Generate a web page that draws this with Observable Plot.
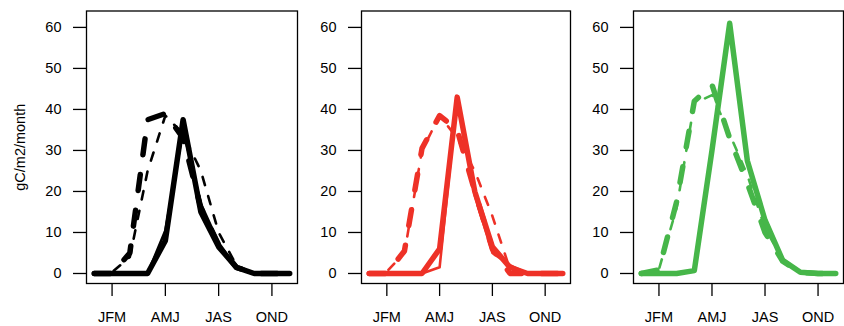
<!DOCTYPE html>
<html>
<head>
<meta charset="utf-8">
<script src="https://cdn.jsdelivr.net/npm/d3@7"></script>
<script src="https://cdn.jsdelivr.net/npm/@observablehq/plot@0.6"></script>
<style>
  body { margin: 0; background: #ffffff; }
  #wrap { position: relative; width: 844px; height: 326px; overflow: hidden; background: #ffffff; }
  .panel { position: absolute; top: 0; }
</style>
</head>
<body>
<div id="wrap"></div>
<script>
// ---- data ----
const months = [1, 2, 3, 4, 5, 6, 7, 8, 9, 10, 11, 12];
const tickMonths = [2, 5, 8, 11];
const tickLabels = ["JFM", "AMJ", "JAS", "OND"];
const yTicks = [0, 10, 20, 30, 40, 50, 60];
const yLabel = "gC/m2/month";
const panelColors = ["#000000", "#EE3127", "#46B649"];

// panel 1 (black)
const blackThickSolid  = [0, 0, 0, 0, 8.0, 37.5, 15.0, 6.5, 1.5, 0, 0, 0];
const blackThinSolid   = [0, 0, 0, 0, 10.5, 35.0, 17.0, 7.5, 1.5, 0, 0, 0];
const blackThickDashed = [0, 0, 5.0, 37.5, 39.0, 33.0, 16.0, 7.0, 1.5, 0, 0, 0];
const blackThinDashed  = [0, 0.3, 4.0, 25.0, 38.5, 34.0, 25.0, 10.0, 2.0, 0, 0, 0];

// panel 2 (red)
const redThickSolid  = [0, 0, 0, 0, 6.0, 43.0, 20.0, 6.5, 1.5, 0, 0, 0];
const redThinSolid   = [0, 0, 0, 0, 1.5, 43.0, 19.0, 5.0, 2.0, 0, 0, 0];
const redThickDashed = [0, 0, 5.5, 30.5, 38.5, 35.0, 20.0, 6.0, 0, 0, 0, 0];
const redThinDashed  = [0, 0.5, 5.0, 30.0, 38.5, 33.0, 25.0, 14.0, 1.0, 0, 0, 0];

// panel 3 (green)
const greenThickSolid  = [0, 0, 0, 0.7, 30.0, 61.0, 27.5, 13.0, 3.2, 0.3, 0, 0];
const greenThinSolid   = [0, 0, 0, 0.5, 30.0, 60.5, 28.0, 13.5, 3.5, 0.3, 0, 0];
const greenThickDashed = [0, 0.9, 17.5, 42.0, 46.0, 33.0, 22.0, 10.0, 3.0, 0.3, 0, 0];
const greenThinDashed  = [0, 1.0, 16.0, 41.5, 43.5, 34.0, 24.0, 11.0, 3.5, 0.5, 0, 0];

const panelSeries = [
  [blackThinDashed, blackThickDashed, blackThinSolid, blackThickSolid],
  [redThinDashed, redThickDashed, redThinSolid, redThickSolid],
  [greenThinDashed, greenThickDashed, greenThinSolid, greenThickSolid]
];

// ---- styles & layout ----
const seriesStyles = [
  {strokeWidth: 2.6, strokeDasharray: "8.5,11.5"},
  {strokeWidth: 5.5, strokeDasharray: "16,20"},
  {strokeWidth: 2.6, strokeDasharray: null},
  {strokeWidth: 5.5, strokeDasharray: null}
];
const layouts = [
  {left: 0,   width: 300, marginLeft: 86, marginRight: 3},
  {left: 281, width: 292, marginLeft: 80, marginRight: 3},
  {left: 562, width: 282, marginLeft: 71, marginRight: 1}
];

const wrap = document.getElementById("wrap");

panelSeries.forEach((seriesList, p) => {
  const lay = layouts[p];
  const color = panelColors[p];
  const lineMarks = seriesList.map((values, s) => {
    const data = months.map((m, i) => ({m, v: values[i]}));
    const st = seriesStyles[s];
    const opts = {
      x: "m", y: "v", stroke: color, strokeWidth: st.strokeWidth,
      strokeLinecap: "round", strokeLinejoin: "round"
    };
    if (st.strokeDasharray) opts.strokeDasharray = st.strokeDasharray;
    return Plot.line(data, opts);
  });

  const chart = Plot.plot({
    width: lay.width,
    height: 326,
    marginLeft: lay.marginLeft,
    marginRight: lay.marginRight,
    marginTop: 10.5,
    marginBottom: 43,
    x: {domain: [0.56, 12.44]},
    y: {domain: [-2.44, 64]},
    style: {
      fontFamily: "'Liberation Sans', Arial, Helvetica, sans-serif",
      fontSize: "14.5px",
      color: "#000000",
      background: "transparent",
      overflow: "visible"
    },
    marks: [
      ...lineMarks,
      Plot.frame({stroke: "#000000", strokeWidth: 1.3}),
      Plot.axisX({
        ticks: tickMonths,
        tickFormat: (d) => tickLabels[tickMonths.indexOf(d)],
        tickSize: 13, tickPadding: 15, strokeWidth: 1.3, label: null
      }),
      Plot.axisY({
        ticks: yTicks,
        tickSize: 13, tickPadding: 12, strokeWidth: 1.3,
        label: p === 0 ? yLabel : null,
        labelAnchor: "center",
        labelOffset: 72,
        labelArrow: false
      })
    ]
  });
  chart.classList.add("panel");
  chart.style.left = lay.left + "px";
  wrap.appendChild(chart);
});
</script>
</body>
</html>
